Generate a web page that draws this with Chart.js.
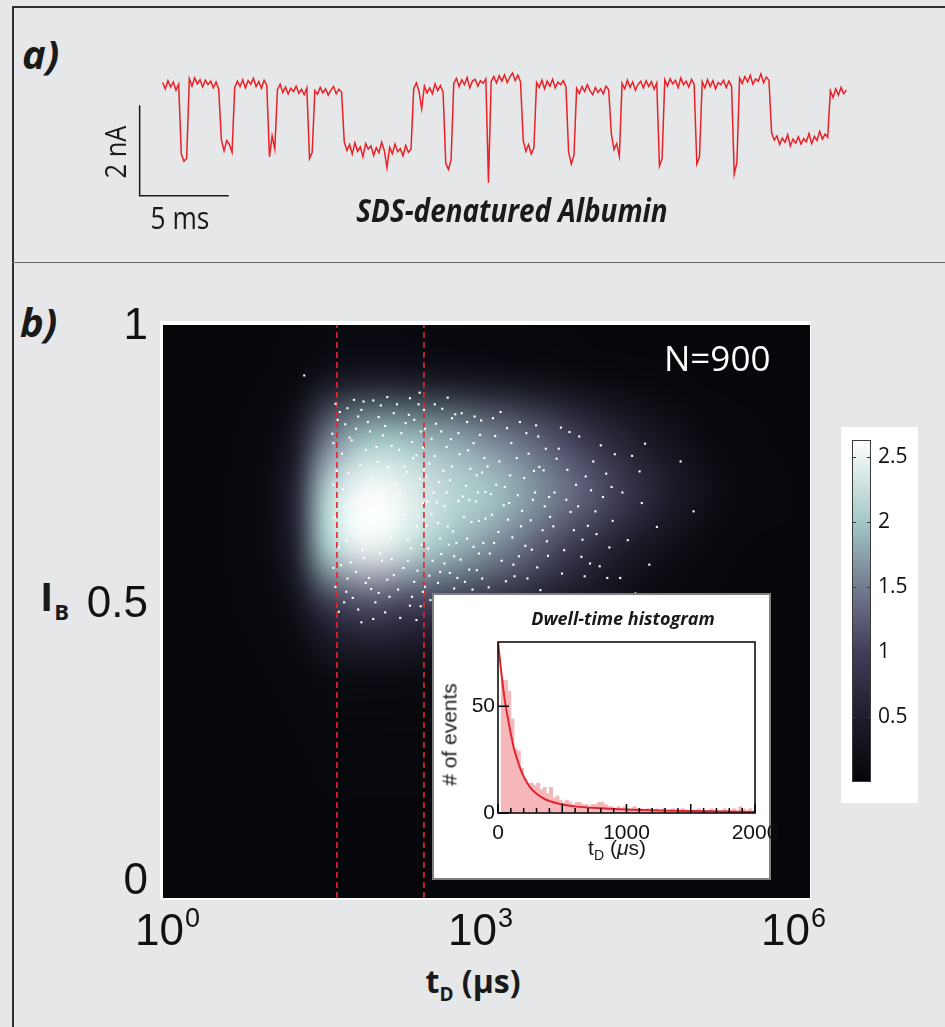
<!DOCTYPE html>
<html>
<head>
<meta charset="utf-8">
<title>SDS-denatured Albumin - dwell time vs blockade depth</title>
<script src="https://cdn.jsdelivr.net/npm/chart.js"></script>
<style>
  body { margin: 0; width: 945px; height: 1027px; position: relative; overflow: hidden; background: #e6e7e8; font-family: "Open Sans", sans-serif; color: #1a1a1a; }
  .rule { position: absolute; background: #2e2e2e; }
  .txt { position: absolute; white-space: nowrap; }
  .bi { font-weight: bold; font-style: italic; }
  .b { font-weight: bold; }
  .c { text-align: center; }
  .hv { font-family: "Liberation Sans", sans-serif; }
  canvas { position: absolute; }
</style>
</head>
<body>
<div class="rule" style="left:12px;top:6px;width:2px;height:1021px"></div>
<div class="rule" style="left:12px;top:6px;width:933px;height:2px"></div>
<div class="rule" style="left:12px;top:262px;width:933px;height:1px;background:#6a6a6a"></div>

<!-- panel a -->
<div class="txt bi" style="left:22px;top:34px;font-size:40px;line-height:40px">a)</div>
<canvas id="trace" width="739" height="145" style="left:127px;top:58px"></canvas>
<div class="txt c" style="left:55px;top:137px;width:120px;font-size:30px;line-height:30px;transform:rotate(-90deg) scaleX(.85)">2 nA</div>
<div class="txt c" style="left:80px;top:202px;width:200px;font-size:31px;line-height:31px;transform:scaleX(.85)">5 ms</div>
<div class="txt bi c" style="left:262px;top:194px;width:500px;font-size:32px;line-height:32px;transform:scaleX(.87)">SDS-denatured Albumin</div>

<!-- panel b -->
<div class="txt bi" style="left:20px;top:302px;font-size:40px;line-height:40px">b)</div>
<div class="txt b" style="left:40px;top:576px;font-size:40px;line-height:40px">I<span style="font-size:22px;position:relative;top:9px;margin-left:1px">B</span></div>
<div class="txt b c" style="left:373px;top:965px;width:200px;font-size:32px;line-height:32px">t<span style="font-size:19px;position:relative;top:8px">D</span> (μs)</div>
<canvas id="main" width="800" height="745" style="left:60px;top:280px"></canvas>
<div class="txt" style="left:664px;top:340px;font-size:35px;line-height:35px;color:#fff">N=900</div>

<div style="position:absolute;left:432px;top:593px;width:335px;height:283px;background:#fff;border:2px solid #808080"></div>
<div class="txt bi c" style="left:473px;top:609px;width:300px;font-size:18px;line-height:18px">Dwell-time histogram</div>
<canvas id="inset" width="351" height="258" style="left:440px;top:612px"></canvas>
<div class="txt hv c" style="left:517px;top:837px;width:200px;font-size:21px;line-height:21px">t<span style="font-size:14px;position:relative;top:5px">D</span> (<i>μ</i>s)</div>
<div class="txt hv c" style="left:369px;top:724px;width:160px;font-size:21px;line-height:21px;transform:rotate(-90deg)"># of events</div>

<div style="position:absolute;left:841px;top:427px;width:77px;height:376px;background:#fff"></div>
<canvas id="cbar" width="77" height="385" style="left:841px;top:418px"></canvas>

<script>
// ---- panel a: current trace, one sample every 0.15 ms, in nA about the open level
var traceStepMs = 0.15;
var traceNA = [
  0.06,-0.08,0.10,-0.04,0.07,-0.11,0.02,-1.52,-1.68,-1.61,
  0.14,-0.02,0.16,0.03,0.12,-0.04,0.11,0.01,0.09,-0.06,
  0.07,-0.09,-1.20,-1.45,-1.22,-1.31,-1.48,-0.05,0.09,-0.03,
  0.12,-0.06,0.10,0.02,0.15,-0.03,0.08,-0.07,0.11,0.00,
  -1.58,-1.12,-1.41,-0.10,0.02,-0.16,-0.04,-0.19,-0.07,-0.14,
  -0.02,-0.18,-0.09,-0.21,-0.06,-1.62,-1.48,-0.12,-0.20,-0.05,
  -0.17,-0.08,-0.22,-0.11,-0.03,-0.19,-0.09,-0.15,-1.25,-1.44,
  -1.31,-1.52,-1.27,-1.46,-1.36,-1.58,-1.29,-1.41,-1.34,-1.55,
  -1.38,-1.49,-1.26,-1.44,-1.82,-1.37,-1.51,-1.30,-1.47,-1.40,
  -1.56,-1.33,-1.48,-1.41,-0.08,0.05,-0.14,-0.52,-0.02,-0.17,
  -0.06,-0.19,0.03,-0.12,-0.01,-0.16,-1.72,-1.86,-1.65,0.04,
  0.15,-0.03,0.12,0.01,0.17,-0.06,0.09,0.13,-0.02,0.10,
  0.04,0.14,-2.15,0.08,0.19,0.05,0.21,0.09,0.23,0.06,
  0.18,0.27,0.10,0.22,0.07,-1.22,-1.46,-1.31,-1.52,-1.38,
  0.06,-0.05,0.11,-0.08,0.09,-0.02,0.13,-0.06,0.07,0.01,
  0.10,-0.04,-1.48,-1.74,-1.55,-0.07,-0.18,-0.03,-0.14,0.01,
  -0.12,-0.21,-0.05,-0.16,-0.08,-0.19,-0.02,-0.10,-1.08,-1.42,
  -1.29,-1.57,0.04,-0.08,0.11,-0.05,0.07,-0.11,0.02,0.09,
  -0.06,0.10,-0.03,0.08,-0.09,0.05,-1.79,-1.62,0.12,-0.02,
  0.14,0.03,0.11,-0.05,0.16,0.01,0.09,-0.04,0.13,0.02,
  -1.74,-1.58,0.08,-0.06,0.12,-0.03,0.10,-0.08,0.06,0.01,
  0.11,-0.05,0.09,-0.02,-1.96,-1.71,0.16,0.04,0.19,0.07,
  0.22,0.02,0.14,0.09,0.25,0.05,0.18,0.11,-1.05,-1.21,
  -1.12,-1.31,-1.17,-1.26,-1.09,-1.34,-1.19,-1.28,-1.14,-1.30,
  -1.18,-1.25,-1.07,-1.29,-1.13,-1.22,-1.02,-1.19,-1.08,-1.15,
  -0.12,-0.27,-0.08,-0.22,-0.05,-0.19,-0.11
];
var scaleBarMs = 5, scaleBarNA = 2;
var scaleBarCorner = [-1.29, -2.44];   // ms, nA

// ---- panel b: density map (log10 t_D columns, I_B rows)
var heatLogT = [0,0.25,0.5,0.75,1,1.25,1.5,1.75,2,2.25,2.5,2.75,3,3.25,3.5,3.75,4,4.25,4.5,4.75,5,5.25,5.5,5.75,6];
var heatIB = [0,0.1,0.2,0.3,0.4,0.5,0.6,0.7,0.8,0.9,1];
var heatRows = [
  [0,0,0,0,0,0,0,0,0,0,0,0,0,0,0,0,0,0,0,0,0,0,0,0,0],
  [0,0,0,0,0,0,0,0,0,0,0,0,0,0,0,0,0,0,0,0,0,0,0,0,0],
  [0,0,0,0,0,0.01,0.015,0.02,0.02,0.015,0.015,0.01,0.01,0.005,0,0,0,0,0,0,0,0,0,0,0],
  [0,0,0,0,0.01,0.02,0.04,0.05,0.05,0.04,0.04,0.03,0.02,0.02,0.01,0.01,0,0,0,0,0,0,0,0,0],
  [0,0,0,0.01,0.02,0.06,0.18,0.24,0.25,0.22,0.19,0.16,0.13,0.1,0.07,0.05,0.03,0.02,0.01,0,0,0,0,0,0],
  [0,0,0.01,0.02,0.07,0.25,0.8,1.05,1.1,1.0,0.9,0.8,0.7,0.6,0.48,0.36,0.25,0.16,0.09,0.05,0.02,0,0,0,0],
  [0,0,0.01,0.04,0.14,0.6,2.0,2.45,2.5,2.3,2.05,1.85,1.65,1.45,1.2,0.95,0.7,0.5,0.32,0.18,0.08,0.03,0.01,0,0],
  [0,0,0.01,0.05,0.16,0.65,2.1,2.55,2.63,2.5,2.3,2.15,2.05,1.85,1.65,1.45,1.2,0.95,0.7,0.45,0.25,0.12,0.05,0.02,0],
  [0,0,0.01,0.03,0.1,0.4,1.4,1.85,2.0,1.95,1.85,1.75,1.6,1.45,1.25,1.05,0.8,0.6,0.4,0.25,0.12,0.05,0.02,0,0],
  [0,0,0,0.01,0.03,0.09,0.3,0.42,0.45,0.42,0.38,0.34,0.3,0.25,0.2,0.15,0.1,0.07,0.04,0.02,0.01,0,0,0,0],
  [0,0,0,0,0.01,0.02,0.04,0.06,0.06,0.05,0.05,0.04,0.03,0.02,0.02,0.01,0.01,0,0,0,0,0,0,0,0]
];
var cmapVals = [0, 0.5, 1.0, 1.5, 2.0, 2.63];
var cmapColors = ['#05070a', '#1d1d2b', '#413e5a', '#737b90', '#a2c8c6', '#ffffff'];
var cbMax = 2.63;
var cbTicks = [0.5, 1, 1.5, 2, 2.5];

// single events: [log10 t_D (us), I_B]
var events = [
  [1.62,.833],[2.17,.861],[1.88,.779],[2.39,.812],[1.71,.854],[2.04,.805],[1.58,.791],[2.28,.842],[1.95,.868],[1.79,.817],
  [2.12,.786],[1.66,.772],[2.35,.769],[1.84,.851],[2.21,.809],[1.60,.862],[2.00,.838],[1.75,.796],[2.42,.851],[1.92,.812],
  [2.08,.874],[1.69,.825],[2.31,.793],[1.81,.839],[2.25,.827],[1.98,.784],[1.57,.808],[2.14,.845],[1.86,.866],[2.37,.861],
  [1.73,.801],[2.06,.822],[2.41,.783],[1.64,.847],[2.19,.779],[1.90,.829],[2.29,.872],[1.77,.869],[2.02,.859],[2.33,.833],
  [1.61,.741],[2.23,.662],[1.87,.703],[2.38,.727],[1.70,.615],[2.09,.748],[1.96,.634],[2.30,.601],[1.78,.684],[2.15,.716],
  [1.59,.657],[2.41,.683],[1.83,.752],[2.01,.592],[2.26,.739],[1.67,.708],[2.35,.641],[1.93,.726],[2.11,.621],[1.74,.649],
  [2.20,.697],[1.63,.603],[2.40,.608],[1.89,.668],[2.05,.703],[2.32,.764],[1.72,.737],[2.17,.646],[1.99,.757],[2.27,.617],
  [1.80,.624],[2.13,.681],[1.58,.716],[2.37,.659],[1.94,.691],[2.24,.749],[1.68,.676],[2.07,.656],[2.42,.744],[1.85,.598],
  [1.65,.571],[2.18,.527],[1.91,.548],[2.36,.561],[1.76,.512],[2.03,.579],[1.60,.532],[2.29,.498],[1.86,.584],[2.10,.514],
  [1.71,.547],[2.41,.523],[1.97,.504],[2.23,.566],[1.81,.491],[2.14,.553],[1.58,.566],[2.33,.541],[1.93,.528],[2.06,.486],
  [1.68,.504],[2.27,.579],[1.88,.539],[2.39,.497],[1.74,.576],[2.00,.521],[2.20,.476],[1.63,.487],[1.84,.468],[2.12,.582],
  [1.95,.474],[2.31,.514],[1.79,.559],[2.08,.545],[2.35,.472],[1.70,.523],
  [1.31,.913],[2.38,.882],
  [2.58,.812],[2.91,.733],[2.46,.601],[2.77,.845],[2.63,.702],[2.84,.563],[2.52,.768],[2.99,.655],[2.70,.529],[2.43,.817],
  [2.88,.791],[2.61,.574],[2.74,.687],[2.49,.663],[2.95,.832],[2.55,.539],[2.81,.714],[2.67,.798],[2.93,.592],[2.44,.731],
  [2.72,.611],[2.59,.853],[2.86,.649],[2.51,.702],[2.98,.764],[2.64,.641],[2.79,.503],[2.47,.552],[2.90,.686],[2.68,.749],
  [2.53,.826],[2.83,.778],[2.62,.516],[2.96,.547],[2.45,.686],[2.76,.581],[2.57,.619],[2.89,.839],[2.71,.843],[2.48,.508],
  [2.66,.557],[2.92,.702],[2.54,.684],[2.82,.619],[2.60,.741],[2.97,.611],[2.75,.771],[2.50,.579],[2.87,.527],[2.63,.784],
  [2.44,.642],[2.79,.658],[2.69,.632],[2.56,.721],[2.94,.806],[2.85,.745],[2.52,.861],[2.73,.548],[2.66,.724],[2.99,.703],
  [2.58,.591],[2.82,.829],[2.47,.754],[2.91,.562],[2.65,.608],[2.78,.695],[2.43,.532],[2.88,.604],[2.61,.677],[2.74,.809],
  [2.55,.647],[2.96,.738],[2.70,.587],[2.84,.688],[2.49,.799],[2.68,.836],[2.93,.651],[2.57,.559],[2.80,.541],[2.64,.873],
  [3.08,.804],[3.41,.652],[3.22,.733],[3.55,.781],[3.03,.592],[3.31,.829],[3.47,.567],[3.16,.679],[3.58,.694],[3.26,.551],
  [3.12,.758],[3.44,.741],[3.05,.662],[3.36,.606],[3.52,.634],[3.19,.818],[3.29,.697],[3.02,.531],[3.48,.803],[3.14,.579],
  [3.39,.772],[3.24,.621],[3.57,.588],[3.09,.716],[3.33,.669],[3.45,.702],[3.18,.542],[3.53,.742],[3.06,.836],[3.28,.764],
  [3.42,.599],[3.21,.683],[3.59,.658],[3.11,.631],[3.35,.728],[3.50,.526],[3.01,.749],[3.30,.587],[3.46,.823],[3.17,.712],
  [3.38,.547],[3.23,.791],[3.54,.677],[3.07,.611],[3.32,.641],[3.43,.689],[3.13,.847],[3.27,.516],[3.56,.614],[3.20,.653],
  [3.37,.809],[3.04,.699],[3.49,.748],[3.25,.572],
  [3.67,.781],[3.94,.642],[4.11,.736],[3.72,.598],[3.86,.803],[4.05,.569],[3.63,.702],[3.99,.758],[4.17,.651],[3.78,.667],
  [3.91,.551],[4.08,.694],[3.69,.819],[3.83,.716],[4.14,.603],[3.75,.743],[4.02,.627],[3.88,.586],[3.62,.641],[4.19,.771],
  [3.81,.634],[3.97,.706],[3.70,.556],[4.06,.787],[3.85,.677],[3.65,.763],[4.12,.548],[3.92,.731],[3.77,.811],[4.01,.668],
  [3.89,.617],[3.74,.689],[4.16,.712],[3.96,.574],
  [4.35,.768],[4.47,.790],[4.42,.740],[4.58,.640],[4.38,.520],[4.80,.758],[4.92,.668],[4.26,.702],[4.31,.616],[4.51,.572],
  [4.24,.548],[4.44,.683]
];
var gateT = [41, 263];            // dashed dwell-time gates, us
var mainXTicks = [1, 1e3, 1e6];
var mainYTicks = [0, 0.5, 1];
var mainYRange = [-0.029, 1.004];

// ---- inset: dwell-time histogram, 25 us bins from 0 to 2000 us
var binWidth = 25;
var histCounts = [
  0,62,62,57,44,30,29,21,16,14,
  14,13,14,11,12,9,12,7,8,6,
  5,6,5,4,5,5,4,4,3,4,
  4,5,5,4,3,3,2,3,2,3,
  2,2,3,2,2,1,2,2,1,2,
  1,2,1,1,2,1,1,2,1,1,
  1,1,2,1,1,1,2,1,1,1,
  2,1,1,2,1,3,2,1,2,1
];
var fitT = [0,25,50,75,100,125,150,175,200,250,300,350,400,500,600,800,1000,1250,1500,1750,2000];
var fitN = [80,66,54,45,37,30,25,20.5,17,12,9,7,5.6,4,3.1,2.2,1.6,1.2,0.9,0.7,0.5];
var inXLabels = [0, 1000, 2000];
var inYTicks = [0, 50];

Chart.defaults.font.family = '"Liberation Sans", sans-serif';
Chart.defaults.color = '#111';

function hexRgb(h) { return [1, 3, 5].map(function(i) { return parseInt(h.substr(i, 2), 16); }); }
function cmap(v) {
  var c = cmapColors.map(hexRgb);
  if (v <= cmapVals[0]) return c[0];
  for (var i = 1; i < cmapVals.length; i++) {
    if (v <= cmapVals[i]) {
      var f = (v - cmapVals[i - 1]) / (cmapVals[i] - cmapVals[i - 1]);
      return c[i - 1].map(function(a, k) { return Math.round(a + f * (c[i][k] - a)); });
    }
  }
  return c[c.length - 1];
}

var quiet = { legend: { display: false }, tooltip: { enabled: false } };

// panel a
var sbPts = [
  { x: scaleBarCorner[0], y: scaleBarCorner[1] + scaleBarNA },
  { x: scaleBarCorner[0], y: scaleBarCorner[1] },
  { x: scaleBarCorner[0] + scaleBarMs, y: scaleBarCorner[1] }
];
new Chart(document.getElementById('trace'), {
  type: 'line',
  data: { datasets: [
    { data: traceNA.map(function(v, k) { return { x: k * traceStepMs, y: v }; }),
      borderColor: '#ea2127', borderWidth: 1.5, pointRadius: 0 },
    { data: sbPts, borderColor: '#1a1a1a', borderWidth: 1.5, pointRadius: 0 }
  ]},
  options: {
    responsive: false, animation: false, events: [], plugins: quiet,
    layout: { padding: 0 },
    scales: {
      x: { type: 'linear', min: -2, max: 39.5, display: false },
      y: { min: -2.6, max: 0.6, display: false }
    }
  }
});

// panel b: density image behind the events
var heatPlugin = {
  id: 'heat',
  beforeDatasetsDraw: function(chart) {
    var ctx = chart.ctx, a = chart.chartArea, x = chart.scales.x, y = chart.scales.y;
    ctx.save();
    ctx.fillStyle = '#ffffff';
    ctx.fillRect(a.left - 3, a.top - 4, a.width + 4, a.height + 6);
    ctx.fillStyle = cmapColors[0];
    ctx.fillRect(a.left, a.top, a.width, a.height);
    var nx = heatLogT.length, ny = heatIB.length;
    var off = document.createElement('canvas');
    off.width = nx; off.height = ny;
    var octx = off.getContext('2d');
    var img = octx.createImageData(nx, ny);
    for (var j = 0; j < ny; j++) {
      var row = heatRows[ny - 1 - j];
      for (var i = 0; i < nx; i++) {
        var c = cmap(row[i]), k = (j * nx + i) * 4;
        img.data[k] = c[0]; img.data[k + 1] = c[1]; img.data[k + 2] = c[2]; img.data[k + 3] = 255;
      }
    }
    octx.putImageData(img, 0, 0);
    var dT = (heatLogT[1] - heatLogT[0]) / 2, dI = (heatIB[1] - heatIB[0]) / 2;
    var x0 = x.getPixelForValue(Math.pow(10, heatLogT[0] - dT));
    var x1 = x.getPixelForValue(Math.pow(10, heatLogT[nx - 1] + dT));
    var y0 = y.getPixelForValue(heatIB[ny - 1] + dI);
    var y1 = y.getPixelForValue(heatIB[0] - dI);
    ctx.beginPath(); ctx.rect(a.left, a.top, a.width, a.height); ctx.clip();
    ctx.imageSmoothingEnabled = true;
    ctx.imageSmoothingQuality = 'high';
    ctx.filter = 'blur(6px)';
    ctx.drawImage(off, x0, y0, x1 - x0, y1 - y0);
    ctx.restore();
  }
};

// 10^n labels under the log axis
var powerTicks = {
  id: 'powerTicks',
  afterDraw: function(chart) {
    var ctx = chart.ctx, x = chart.scales.x, a = chart.chartArea;
    ctx.save();
    ctx.fillStyle = '#111';
    ctx.textBaseline = 'alphabetic';
    x.ticks.forEach(function(t) {
      var p = Math.round(Math.log10(t.value)), exp = String(p);
      ctx.font = '44px "Liberation Sans"';
      var wb = ctx.measureText('10').width;
      ctx.font = '27px "Liberation Sans"';
      var we = ctx.measureText(exp).width;
      var left = x.getPixelForValue(t.value) + 4 - 3.5 * p - (wb + we) / 2;
      ctx.font = '44px "Liberation Sans"';
      ctx.fillText('10', left, a.bottom + 47);
      ctx.font = '27px "Liberation Sans"';
      ctx.fillText(exp, left + wb + 1, a.bottom + 29);
    });
    ctx.restore();
  }
};

var gateSets = gateT.map(function(g) {
  return { type: 'line', data: [{ x: g, y: mainYRange[0] }, { x: g, y: mainYRange[1] }],
    borderColor: '#e3262d', borderWidth: 1.6, borderDash: [6, 4], pointRadius: 0, order: 1 };
});
new Chart(document.getElementById('main'), {
  type: 'scatter',
  data: { datasets: [{
    data: events.map(function(e) { return { x: Math.pow(10, e[0]), y: e[1] }; }),
    pointStyle: 'rect', pointRadius: 1.5, pointBorderWidth: 0,
    pointBackgroundColor: '#ffffff', backgroundColor: '#ffffff', order: 0
  }].concat(gateSets) },
  options: {
    responsive: false, animation: false, events: [], plugins: quiet,
    layout: { padding: { top: 45, right: 50, left: 0, bottom: 0 } },
    scales: {
      x: {
        type: 'logarithmic', min: 1, max: 1e6,
        afterBuildTicks: function(s) { s.ticks = mainXTicks.map(function(v) { return { value: v }; }); },
        ticks: { display: false },
        grid: { display: false, drawTicks: false }, border: { display: false },
        afterFit: function(s) { s.height = 127; }
      },
      y: {
        type: 'linear', min: mainYRange[0], max: mainYRange[1],
        afterBuildTicks: function(s) { s.ticks = mainYTicks.map(function(v) { return { value: v }; }); },
        ticks: { font: { size: 44 }, color: '#111', padding: 15, callback: function(v) { return String(v); } },
        grid: { display: false, drawTicks: false }, border: { display: false },
        afterFit: function(s) { s.width = 103; }
      }
    }
  },
  plugins: [heatPlugin, powerTicks]
});

// inset
var insetFrame = {
  id: 'insetFrame',
  afterDatasetsDraw: function(chart) {
    var ctx = chart.ctx, a = chart.chartArea, x = chart.scales.x, y = chart.scales.y;
    ctx.save();
    ctx.strokeStyle = '#000'; ctx.lineWidth = 1.5;
    ctx.strokeRect(a.left, a.top, a.width, a.height);
    ctx.beginPath();
    x.ticks.forEach(function(t) {
      var px = x.getPixelForValue(t.value), len = t.value % 500 === 0 ? 9 : 5;
      ctx.moveTo(px, a.bottom); ctx.lineTo(px, a.bottom - len);
    });
    y.ticks.forEach(function(t) {
      var py = y.getPixelForValue(t.value);
      ctx.moveTo(a.left, py); ctx.lineTo(a.left + 11, py);
    });
    ctx.stroke();
    ctx.restore();
  }
};
new Chart(document.getElementById('inset'), {
  type: 'bar',
  data: { datasets: [
    { type: 'line', data: fitT.map(function(t, i) { return { x: t, y: fitN[i] }; }),
      borderColor: '#e0242b', borderWidth: 2, pointRadius: 0, cubicInterpolationMode: 'monotone', order: 0 },
    { data: histCounts.map(function(n, i) { return { x: (i + 0.5) * binWidth, y: n }; }),
      backgroundColor: '#f6b7ba', borderWidth: 0, barPercentage: 1, categoryPercentage: 1, order: 1 }
  ]},
  options: {
    responsive: false, animation: false, events: [], plugins: quiet,
    layout: { padding: { top: 30, right: 36, left: 0, bottom: 0 } },
    scales: {
      x: {
        type: 'linear', min: 0, max: 2000, offset: false,
        ticks: { stepSize: 100, autoSkip: false, maxRotation: 0, font: { size: 21 }, padding: 8,
          callback: function(v) { return inXLabels.indexOf(v) >= 0 ? String(v) : ''; } },
        grid: { display: false, drawTicks: false }, border: { display: false },
        afterFit: function(s) { s.height = 57; }
      },
      y: {
        min: 0, max: 80,
        afterBuildTicks: function(s) { s.ticks = inYTicks.map(function(v) { return { value: v }; }); },
        ticks: { font: { size: 21 }, padding: 3 },
        grid: { display: false, drawTicks: false }, border: { display: false },
        afterFit: function(s) { s.width = 58; }
      }
    }
  },
  plugins: [insetFrame]
});

// colour bar
var cbFrame = {
  id: 'cbFrame',
  afterDatasetsDraw: function(chart) {
    var ctx = chart.ctx, a = chart.chartArea, y = chart.scales.y;
    ctx.save();
    ctx.strokeStyle = '#3a3a3a'; ctx.lineWidth = 1;
    ctx.strokeRect(a.left + 0.5, a.top + 0.5, a.width - 1, a.height - 1);
    ctx.beginPath();
    y.ticks.forEach(function(t) {
      var py = Math.round(y.getPixelForValue(t.value)) + 0.5;
      ctx.moveTo(a.left, py); ctx.lineTo(a.left + 4, py);
      ctx.moveTo(a.right - 4, py); ctx.lineTo(a.right, py);
    });
    ctx.stroke();
    ctx.restore();
  }
};
new Chart(document.getElementById('cbar'), {
  type: 'bar',
  data: { labels: [''], datasets: [{
    data: [[0, cbMax]], borderWidth: 0, barPercentage: 1, categoryPercentage: 1,
    backgroundColor: function(c) {
      var ch = c.chart;
      if (!ch.chartArea) return cmapColors[0];
      var y = ch.scales.y;
      var g = ch.ctx.createLinearGradient(0, y.getPixelForValue(0), 0, y.getPixelForValue(cbMax));
      cmapVals.forEach(function(v, i) { g.addColorStop(v / cbMax, cmapColors[i]); });
      return g;
    }
  }]},
  options: {
    responsive: false, animation: false, events: [], plugins: quiet,
    layout: { padding: { top: 22, left: 11, right: 0, bottom: 21 } },
    scales: {
      x: { display: false },
      y: {
        position: 'right', min: 0, max: cbMax,
        afterBuildTicks: function(s) { s.ticks = cbTicks.map(function(v) { return { value: v }; }); },
        ticks: { font: { family: '"Open Sans"', size: 21 }, color: '#111', padding: 7,
          callback: function(v) { return String(v); } },
        grid: { display: false, drawTicks: false }, border: { display: false },
        afterFit: function(s) { s.width = 47; }
      }
    }
  },
  plugins: [cbFrame]
});
</script>
</body>
</html>
